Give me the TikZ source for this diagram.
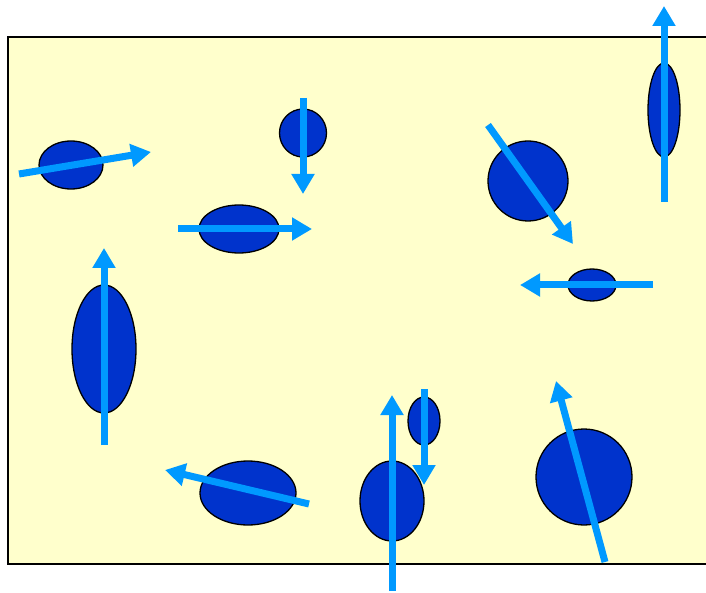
\documentclass[tikz,border=0pt]{standalone}
\usetikzlibrary{arrows.meta}
\definecolor{bgyellow}{HTML}{FFFFCC}
\definecolor{cellblue}{HTML}{0033CC}
\definecolor{arrowblue}{HTML}{0099FF}
\begin{document}
\begin{tikzpicture}[x=1pt,y=-1pt,
  cell/.style={draw=black,line width=1.3pt,fill=cellblue},
  move/.style={draw=arrowblue,line width=7pt,-{Triangle[width=22pt,length=20pt]}}]
\useasboundingbox (0,0) rectangle (706,593);
\begin{scope}
\clip (0,0) rectangle (706,593);
\draw[fill=bgyellow,line width=1.3pt] (8,37) rectangle (712,564);
\end{scope}
% cells
\draw[cell] (71,165) ellipse [x radius=32,y radius=24];
\draw[cell] (303,133) ellipse [x radius=23.5,y radius=24];
\draw[cell] (239,229) ellipse [x radius=40,y radius=24];
\draw[cell] (104,349) ellipse [x radius=32,y radius=64];
\draw[cell] (528,181) ellipse [x radius=40,y radius=40];
\draw[cell] (664,110) ellipse [x radius=16,y radius=47];
\draw[cell] (592,285) ellipse [x radius=24,y radius=16];
\draw[cell] (248,493) ellipse [x radius=48,y radius=32];
\draw[cell] (392,501) ellipse [x radius=32,y radius=40];
\draw[cell] (424,421) ellipse [x radius=16,y radius=24];
\draw[cell] (584,477) ellipse [x radius=48,y radius=48];
% movements
\draw[move] (19,174) -- (151,152);
\draw[move] (303,98) -- (303,194);
\draw[move] (178,229) -- (312,229);
\draw[move] (104,445) -- (104,248);
\draw[move] (488,125) -- (573,244);
\draw[move] (664,202) -- (664,6);
\draw[move] (653,285) -- (520,285);
\draw[move] (309,504) -- (165,470);
\draw[move] (392,591) -- (392,395);
\draw[move] (424,389) -- (424,485);
\draw[move] (605,562) -- (556,381);
\end{tikzpicture}
\end{document}
